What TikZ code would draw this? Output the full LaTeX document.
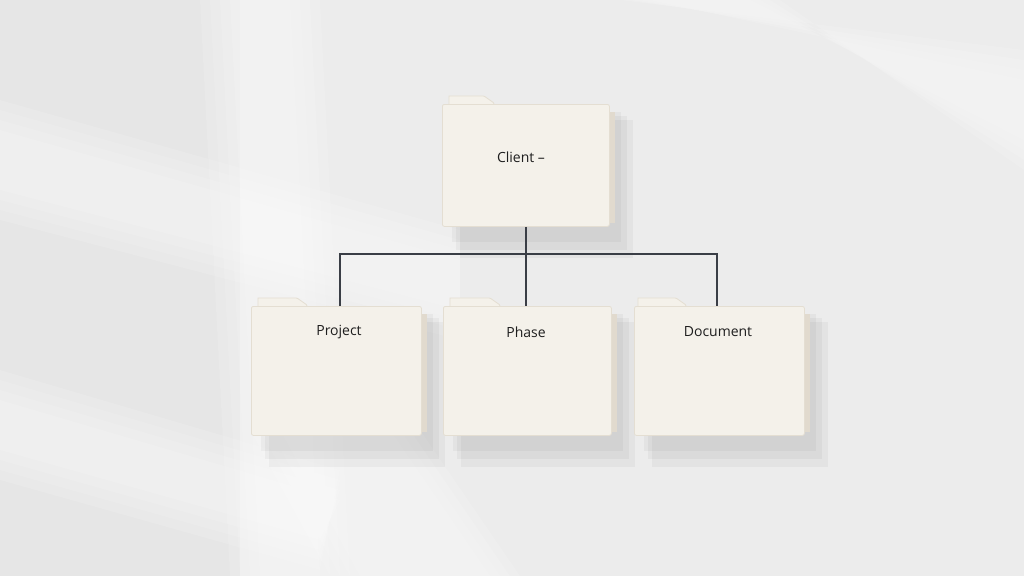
\documentclass[tikz,border=0pt]{standalone}
\usepackage{fontspec}
\setmainfont{Open Sans}
\usetikzlibrary{calc}
\definecolor{bgc}{RGB}{236,236,236}
\definecolor{paper}{RGB}{244,241,234}
\definecolor{paperedge}{RGB}{228,222,210}
\definecolor{sidec}{RGB}{225,218,206}
\definecolor{linec}{RGB}{58,62,70}
\definecolor{txt}{RGB}{30,30,30}
\tikzset{
  folderbody/.style={fill=paper, draw=paperedge, line width=0.8pt, rounded corners=2pt, inner sep=0pt},
  foldertab/.style={fill=paper, draw=paperedge, line width=0.8pt},
  foldershadow/.style={fill=black, opacity=0.035},
  folderside/.style={fill=sidec},
  conn/.style={draw=linec, line width=1.8pt},
  lbl/.style={font=\fontsize{14}{17}\selectfont, text=txt, inner sep=0pt},
  beam/.style={fill=white, opacity=0.12}
}
\newcommand{\mkfolder}[7]{% name, x1,y1,x2,y2, tabx1, tabx2
  \fill[foldershadow] (#2+18,#3+16) rectangle (#4+24,#5+32);
  \fill[foldershadow] (#2+14,#3+12) rectangle (#4+18,#5+24);
  \fill[foldershadow] (#2+10,#3+8) rectangle (#4+12,#5+16);
  \fill[folderside] (#4-3,#3+8) rectangle (#4+6,#5-3);
  \path[foldertab] (#6,#3+2) -- (#6,#3-8) [rounded corners=1pt] -- (#7-10,#3-8) -- (#7,#3-1) -- (#7,#3+2) -- cycle;
  \node[folderbody, minimum width=#4-#2, minimum height=#5-#3, anchor=north west] (#1) at (#2,#3) {};
}
\newcommand{\softbeam}[8]{% four corners, drawn with growing shrink
  \foreach \s in {0,8,16,24} {
    \fill[beam] ($(#1,#2)+(\s,0)$) -- ($(#3,#4)-(\s,0)$) -- ($(#5,#6)-(\s,0)$) -- ($(#7,#8)+(\s,0)$) -- cycle;
  }
}
\begin{document}
\begin{tikzpicture}[x=1pt,y=-1pt]
\useasboundingbox (0,0) rectangle (1024,576);
\fill[bgc] (0,0) rectangle (1024,576);
\fill[black, opacity=0.025] (0,0) rectangle (240,576);
% soft light beams
\foreach \s in {0,10,20,30} {
  \fill[beam] (200+\s,0) -- (320-\s,0) -- (350-\s,576) -- (230+\s,576) -- cycle;
  \fill[beam] (0,100+\s) -- (0,220-\s) -- (460,340-\s) -- (460,230+\s) -- cycle;
  \fill[beam] (0,370+\s) -- (0,480-\s) -- (320,570-\s) -- (340,470+\s) -- cycle;
  \fill[beam] (620+\s,0) -- (780-\s,0) -- (1024,170-\s) -- (1024,50+\s) -- cycle;
  \fill[beam] (250+\s,430) -- (420-\s,430) -- (520-\s,576) -- (330+\s,576) -- cycle;
}
% folders
\mkfolder{client}{442}{104}{609}{226}{449}{494}
\mkfolder{project}{251}{306}{421}{435}{258}{307}
\mkfolder{phase}{443}{306}{611}{435}{450}{500}
\mkfolder{document}{634}{306}{804}{435}{638}{686}
% labels
\node[lbl] (tclient) at (521,157) {Client –};
\node[lbl] (tproject) at (339,332) {Project};
\node[lbl] (tphase) at (526,332) {Phase};
\node[lbl] (tdocument) at (718,332) {Document};
% connectors
\coordinate (bus) at (526,254);
\coordinate (pj) at (340,306);
\coordinate (dc) at (717,306);
\draw[conn] (client.south -| bus) -- (phase.north -| bus);
\draw[conn] (pj) |- (bus) -| (dc);
\end{tikzpicture}
\end{document}
